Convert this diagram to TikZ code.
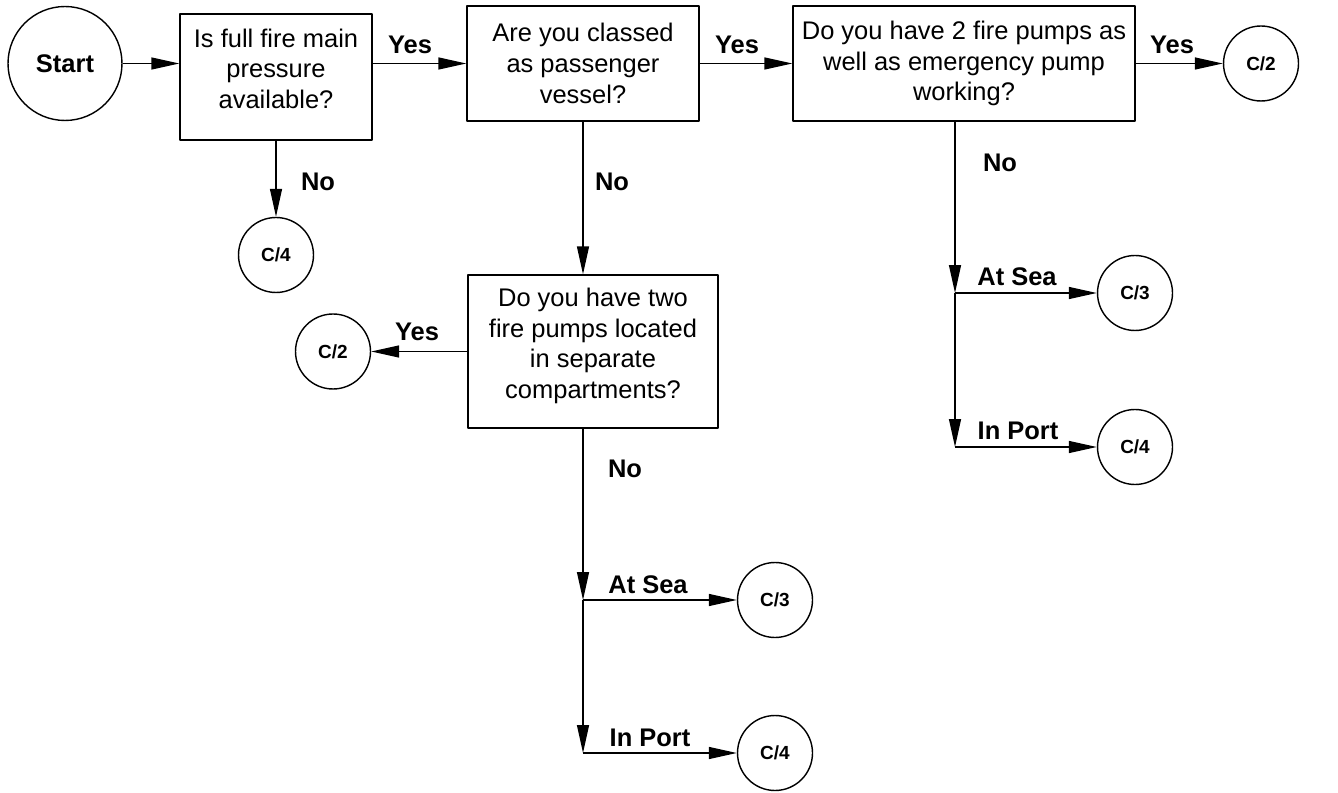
\documentclass[tikz,border=0pt]{standalone}
\usepackage{fontspec}
\setmainfont{Liberation Sans}
\usetikzlibrary{arrows.meta}

\begin{document}
\begin{tikzpicture}[x=0.02cm, y=-0.02cm, line width=0.8pt, line join=round, >={Triangle[length=5.6mm, width=2.4mm]},
  qbox/.style={draw, align=center, inner sep=0pt, font=\fontsize{14.5}{17.5}\selectfont},
  term/.style={draw, circle, inner sep=0pt, minimum size=1.5cm, font=\fontsize{10.8}{12}\selectfont\bfseries},
  lbl/.style={inner sep=0pt, font=\fontsize{14.5}{17}\selectfont\bfseries}]
\useasboundingbox (0,0) rectangle (1338,793);
% start and questions
\node[term, minimum size=2.28cm, font=\fontsize{14.5}{17}\selectfont\bfseries] (start) at (65,63.5) {Start};
\node[qbox, minimum width=3.84cm, minimum height=2.52cm] (q1) at (276,77) {Is full fire main\\pressure\\available?\\[-8pt]\mbox{}};
\node[qbox, minimum width=4.64cm, minimum height=2.30cm] (q2) at (583,63.5) {Are you classed\\as passenger\\vessel?};
\node[qbox, minimum width=6.84cm, minimum height=2.30cm] (q3) at (964,63.5) {Do you have 2 fire pumps as\\well as emergency pump\\working?};
\node[qbox, minimum width=5.00cm, minimum height=3.06cm] (q4) at (593,351.5) {Do you have two\\fire pumps located\\in separate\\compartments?\\[-8pt]\mbox{}};
% end points
\node[term] (c4a) at (276,255) {C/4};
\node[term] (c2a) at (1261,63.5) {C/2};
\node[term] (c2b) at (333,351.5) {C/2};
\node[term] (c3a) at (775,600) {C/3};
\node[term] (c4b) at (775,753) {C/4};
\node[term] (c3b) at (1135,293) {C/3};
\node[term] (c4c) at (1135,447) {C/4};
\coordinate (j1) at (583,600);
\coordinate (j2) at (583,753);
\coordinate (k1) at (955,293);
\coordinate (k2) at (955,447);
% connectors
\draw[->] (start) -- (start -| q1.west);
\draw[->] (q1.east |- q2) -- (q2.west);
\draw[->] (q2.east) -- (q3.west);
\draw[->] (q3.east) -- (c2a);
\draw[->] (q1) -- (c4a);
\draw[->] (q2) -- (q2 |- q4.north);
\draw[->] (q4.west) -- (c2b);
\draw[->] (q4.south -| j1) -- (j1);
\draw[->] (j1) -- (j2);
\draw[->] (j1) -- (c3a);
\draw[->] (j2) -- (c4b);
\draw[->] (q3.south -| k1) -- (k1);
\draw[->] (k1) -- (k2);
\draw[->] (k1) -- (c3b);
\draw[->] (k2) -- (c4c);
% labels
\node[lbl] (yes1) at (410,45) {Yes};
\node[lbl] (yes2) at (737,45) {Yes};
\node[lbl] (yes3) at (1172,45) {Yes};
\node[lbl] (yes4) at (417,332) {Yes};
\node[lbl] (no1) at (318,182) {No};
\node[lbl] (no2) at (612,182) {No};
\node[lbl] (no3) at (1000,163) {No};
\node[lbl] (no4) at (625,469) {No};
\node[lbl] (sea1) at (648,585) {At Sea};
\node[lbl] (port1) at (650,738) {In Port};
\node[lbl] (sea2) at (1017,277) {At Sea};
\node[lbl] (port2) at (1018,431) {In Port};
\end{tikzpicture}
\end{document}
